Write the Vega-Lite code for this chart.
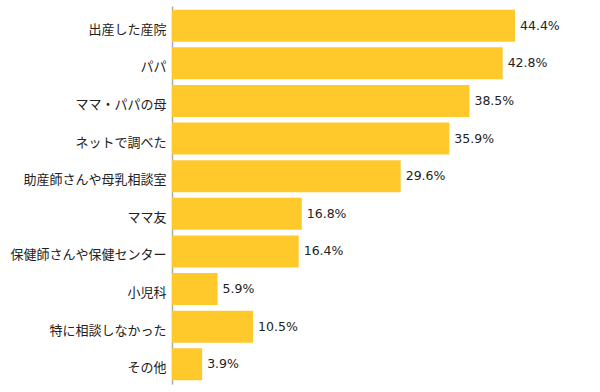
{
  "$schema": "https://vega.github.io/schema/vega-lite/v6.json",
  "autosize": {"type": "none"},
  "padding": {"left": 172, "top": 6, "right": 0, "bottom": 8},
  "width": 428,
  "height": 378,
  "background": "white",
  "config": {"view": {"stroke": null}},
  "data": {"values": [
    {"label": "出産した産院", "value": 44.4},
    {"label": "パパ", "value": 42.8},
    {"label": "ママ・パパの母", "value": 38.5},
    {"label": "ネットで調べた", "value": 35.9},
    {"label": "助産師さんや母乳相談室", "value": 29.6},
    {"label": "ママ友", "value": 16.8},
    {"label": "保健師さんや保健センター", "value": 16.4},
    {"label": "小児科", "value": 5.9},
    {"label": "特に相談しなかった", "value": 10.5},
    {"label": "その他", "value": 3.9}
  ]},
  "encoding": {
    "y": {"field": "label", "type": "nominal", "sort": null,
      "scale": {"paddingInner": 0.15, "paddingOuter": 0.1},
      "axis": {"title": null, "ticks": false, "labelPadding": 6, "labelOffset": 4, "labelFont": "Noto Sans CJK JP", "labelFontSize": 13, "labelColor": "#222", "domainColor": "#aaa", "domainWidth": 1.5}},
    "x": {"field": "value", "type": "quantitative", "scale": {"domain": [0, 55.4], "nice": false}, "axis": null}
  },
  "layer": [
    {"mark": {"type": "bar", "color": "#FFC92C"}},
    {"mark": {"type": "text", "align": "left", "dx": 5, "font": "DejaVu Sans", "fontSize": 12.5, "color": "#222", "text": {"expr": "format(datum.value, '.1f') + '%'"}}}
  ]
}
